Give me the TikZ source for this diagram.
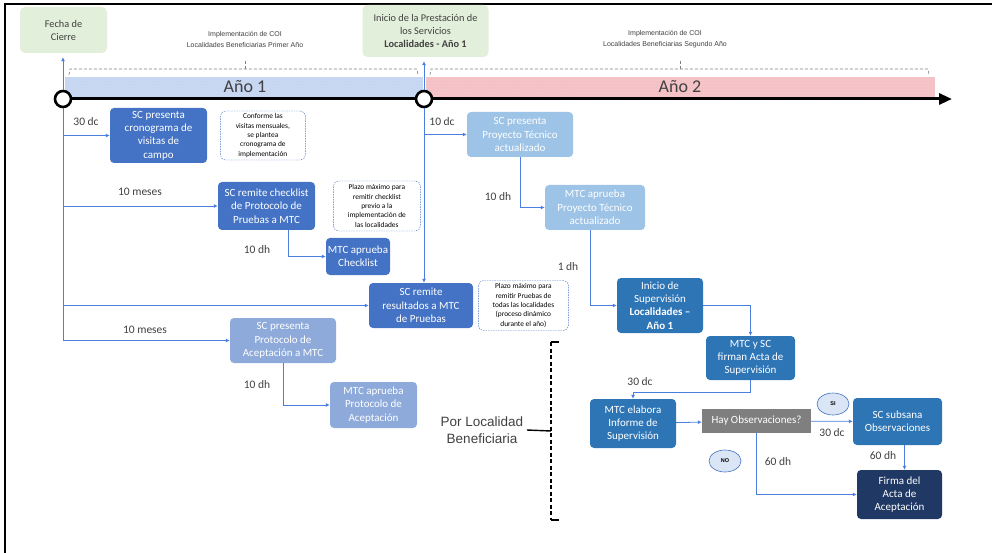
\documentclass[tikz,border=0pt]{standalone}
\usepackage{fontspec}
\setmainfont{Carlito}
\newfontfamily\arialfont{Liberation Sans}
\usetikzlibrary{positioning, arrows.meta, patterns, shapes.geometric}

\definecolor{azulA}{HTML}{4472C4}
\definecolor{azulB}{HTML}{8EAADB}
\definecolor{azulC}{HTML}{9DC3E6}
\definecolor{azulD}{HTML}{2E75B6}
\definecolor{azulE}{HTML}{1F3864}
\definecolor{verdeF}{HTML}{E2EFDA}
\definecolor{lineaAz}{HTML}{4A7FE0}
\definecolor{grisD}{HTML}{7F7F7F}
\definecolor{textoG}{HTML}{404040}
\definecolor{banda1}{HTML}{C9D8F2}
\definecolor{banda2}{HTML}{F4C4C8}
\definecolor{elipseF}{HTML}{DAE5F5}

\tikzset{
  paso/.style={rounded corners=4pt, text=white, align=center, font=\fontsize{11}{13.3}\selectfont, inner sep=1pt},
  nota/.style={draw=azulA, dash pattern=on 1.5pt off 1pt, rounded corners=5pt, fill=white, align=center, font=\fontsize{7.4}{9.4}\selectfont, inner sep=1pt},
  etiq/.style={text=textoG, font=\fontsize{11.5}{12}\selectfont},
  flecha/.style={draw=lineaAz, line width=0.8pt, -{Latex[length=4pt,width=4pt]}},
  hito/.style={circle, draw=black, fill=white, line width=2.6pt, minimum size=16pt, inner sep=0pt},
  verde/.style={fill=verdeF, rounded corners=5pt, align=center, font=\fontsize{10.3}{13}\selectfont, text=textoG},
  llave/.style={draw=gray, densely dashed, line width=0.6pt},
  globo/.style={ellipse, draw=azulA, fill=elipseF, line width=0.6pt, minimum width=32pt, minimum height=22pt, inner sep=0pt, font=\arialfont\fontsize{5.5}{6}\selectfont\bfseries},
  impl/.style={font=\arialfont\fontsize{7}{11}\selectfont, align=center, text=textoG}
}

\begin{document}
\begin{tikzpicture}[x=1pt, y=-1pt]
  \useasboundingbox (0,0) rectangle (992,553);
  \draw[line width=2.5pt] (5,553) -- (5,4) -- (992,4);

  % hitos de cierre e inicio
  \node[verde, minimum width=87pt, minimum height=46pt] (fecha) at (63.5,30) {Fecha de\\Cierre};
  \node[verde, minimum width=126pt, minimum height=52pt] (inicio) at (425.5,31) {Inicio de la Prestación de\\los Servicios\\\textbf{Localidades - Año 1}};

  % bandas
  \fill[banda1] (65,77) rectangle (423,97);
  \fill[pattern=dots, pattern color=azulA!35] (65,77) rectangle (423,97);
  \fill[banda2] (426,77) rectangle (935,97);
  \fill[pattern=dots, pattern color=red!30] (426,77) rectangle (935,97);
  \node[font=\fontsize{18}{18}\selectfont, text=textoG] (anio1) at (245,87) {Año 1};
  \node[font=\fontsize{18}{18}\selectfont, text=textoG] (anio2) at (680,87) {Año 2};

  \node[impl] (imp1) at (245,39) {Implementación de COI\\Localidades Beneficiarias Primer Año};
  \node[impl] (imp2) at (665,39) {Implementación de COI\\Localidades Beneficiarias Segundo Año};
  \draw[llave] (69,75) -- (70,69) -- (417,69) -- (418,75);
  \draw[llave] (245,61) -- (245,69);
  \draw[llave] (430,75) -- (431,69) -- (928,69) -- (929,75);
  \draw[llave] (680,61) -- (680,69);

  % linea de tiempo
  \node[hito] (c1) at (63,99) {};
  \node[hito] (c2) at (424,99) {};
  \coordinate (fin) at (952,99);
  \draw[line width=3pt] (c1) -- (c2);
  \draw[line width=3pt, -{Triangle[length=13pt,width=11pt]}] (c2) -- (fin);
  \draw[flecha, shorten >=4pt] (c1) -- (c1 |- fecha.south);
  \draw[flecha, shorten >=4pt] (c2) -- (c2 |- inicio.south);

  % primer anio
  \node[paso, fill=azulA, minimum width=97pt, minimum height=55pt] (b1) at (158.5,135.5) {SC presenta\\cronograma de\\visitas de\\campo};
  \node[nota, minimum width=85pt, minimum height=49pt, right=13pt of b1] (n1) {Conforme las\\visitas mensuales,\\se plantea\\cronograma de\\implementación};
  \node[paso, fill=azulA, minimum width=97pt, minimum height=48pt] (b2) at (266.5,206) {SC remite checklist\\de Protocolo de\\Pruebas a MTC};
  \node[nota, minimum width=87pt, minimum height=50pt, right=18pt of b2] (n2) {Plazo máximo para\\remitir checklist\\previo a la\\implementación de\\las localidades};
  \node[paso, fill=azulA, minimum width=64pt, minimum height=37pt] (b3) at (358,256.5) {MTC aprueba\\Checklist};
  \node[paso, fill=azulA, minimum width=104pt, minimum height=45pt] (b4) at (421,305.5) {SC remite\\resultados a MTC\\de Pruebas};
  \node[nota, minimum width=90pt, minimum height=50pt, right=5pt of b4] (n4) {Plazo máximo para\\remitir Pruebas de\\todas las localidades\\(proceso dinámico\\durante el año)};
  \node[paso, fill=azulB, minimum width=106pt, minimum height=45pt] (b5) at (283,340.5) {SC presenta\\Protocolo de\\Aceptación a MTC};
  \node[paso, fill=azulB, minimum width=87pt, minimum height=46pt] (b6) at (373.5,405) {MTC aprueba\\Protocolo de\\Aceptación};

  \draw[flecha] (c1.south) |- (b1);
  \draw[flecha] (c1.south) |- (b2);
  \draw[flecha] (c1.south) |- (b4);
  \draw[flecha] (c1.south) |- (b5);
  \draw[flecha] ([xshift=22pt]b2.south) |- (b3);
  \draw[flecha] (b5.south) |- (b6);
  \draw[flecha] (c2) -- (c2 |- b4.north);

  \node[etiq] (l1) at (86,122) {30 dc};
  \node[etiq] (l2) at (140,192) {10 meses};
  \node[etiq] (l3) at (257,250) {10 dh};
  \node[etiq] (l4) at (145,330) {10 meses};
  \node[etiq] (l5) at (257,385) {10 dh};

  % segundo anio
  \node[paso, fill=azulC, minimum width=106pt, minimum height=45pt] (b7) at (520,134.5) {SC presenta\\Proyecto Técnico\\actualizado};
  \node[paso, fill=azulC, minimum width=100pt, minimum height=45pt] (b8) at (595,207.5) {MTC aprueba\\Proyecto Técnico\\actualizado};
  \node[paso, fill=azulD, minimum width=86pt, minimum height=55pt] (b9) at (660,305.5) {Inicio de\\Supervisión\\\textbf{Localidades –}\\\textbf{Año 1}};
  \node[paso, fill=azulD, minimum width=89pt, minimum height=44pt] (b10) at (750.5,358) {MTC y SC\\firman Acta de\\Supervisión};
  \node[paso, fill=azulD, minimum width=86pt, minimum height=49pt] (b11) at (633,423.5) {MTC elabora\\Informe de\\Supervisión};
  \node[fill=grisD, text=white, minimum width=109pt, minimum height=24pt, font=\fontsize{11}{12}\selectfont] (dec) at (756.5,421) {Hay Observaciones?};
  \node[paso, fill=azulD, minimum width=89pt, minimum height=47pt] (b12) at (897.5,421.5) {SC subsana\\Observaciones};
  \node[paso, fill=azulE, minimum width=85pt, minimum height=49pt] (b13) at (899.5,494.5) {Firma del\\Acta de\\Aceptación};
  \node[globo] (si) at (833,404) {SI};
  \node[globo] (no) at (725,461) {NO};

  \draw[flecha] (c2.south) |- (b7);
  \draw[flecha] (b7.south) |- (b8);
  \draw[flecha] ([xshift=-5pt]b8.south) |- (b9);
  \draw[flecha] (b9) -| (b10);
  \draw[flecha] (b10.south) -- ++(0,12) -| (b11.north);
  \draw[flecha] (b11) -- (dec);
  \draw[flecha] (dec) -- (b12);
  \draw[flecha] ([xshift=7pt]b12.south) -- ([xshift=7pt]b12.south |- b13.north);
  \draw[flecha] (dec.south) |- (b13);

  \node[etiq] (l6) at (442,122) {10 dc};
  \node[etiq] (l7) at (498,197) {10 dh};
  \node[etiq] (l8) at (568,267) {1 dh};
  \node[etiq] (l9) at (640,382) {30 dc};
  \node[etiq] (l10) at (832,433) {30 dc};
  \node[etiq] (l11) at (883,456) {60 dh};
  \node[etiq] (l12) at (778,462) {60 dh};

  % por localidad
  \node[font=\arialfont\fontsize{13.5}{17}\selectfont, text=textoG, align=center] (porloc) at (482,430) {Por Localidad\\Beneficiaria};
  \coordinate (llaveM) at (551,431);
  \draw[line width=1.6pt, dash pattern=on 4pt off 2.5pt] (551,342) -- (551,520);
  \draw[line width=1.6pt] (551,342) -- (559,342);
  \draw[line width=1.6pt] (551,520) -- (559,520);
  \draw[line width=1.4pt] (porloc.east) -- (llaveM);
\end{tikzpicture}
\end{document}
